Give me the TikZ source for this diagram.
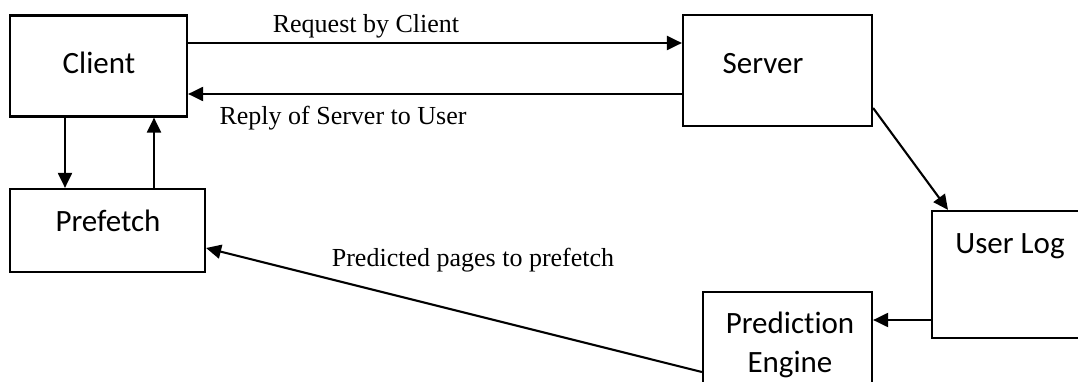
\documentclass[tikz,border=0pt]{standalone}
\usepackage{fontspec}
\setmainfont{Liberation Serif}
\newfontfamily\boxfont[Ligatures={NoCommon,NoRare,NoContextual}]{Carlito}
\usetikzlibrary{arrows.meta,calc}

\tikzset{
  box/.style={draw=black, line width=2.2pt, rectangle, inner sep=0pt},
  boxtext/.style={font=\boxfont\fontsize{31}{36}\selectfont, inner sep=0pt, anchor=base},
  edgetext/.style={font=\fontsize{26}{30}\selectfont, inner sep=0pt, anchor=base},
  arr/.style={line width=2.1pt, -{Triangle[length=15pt,width=14pt]}},
}

\begin{document}
\begin{tikzpicture}[x=1pt, y=-1pt]
  \useasboundingbox (0,0) rectangle (1078,382);

  % boxes
  \node[box, minimum width=177pt, minimum height=101pt] (client)   at (98.5,66)   {};
  \node[box, minimum width=189pt, minimum height=111pt] (server)   at (777.5,70.5) {};
  \node[box, minimum width=195pt, minimum height=83pt]  (prefetch) at (107.5,230.5) {};
  \node[box, minimum width=168pt, minimum height=127pt] (userlog)  at (1016,274.5) {};
  \node[box, minimum width=169pt, minimum height=108pt] (engine)   at (787.5,346)  {};

  % box captions
  \node[boxtext] (clientT)   at (99,74)    {Client};
  \node[boxtext] (serverT)   at (763,74)   {Server};
  \node[boxtext] (prefetchT) at (108,231)  {Prefetch};
  \node[boxtext] (userlogT)  at (1010,253) {User Log};
  \node[boxtext] (engineT1)  at (790,333)  {Prediction};
  \node[boxtext] (engineT2)  at (790,372)  {Engine};

  % connectors
  \draw[arr] (client.east |- 0,43) -- (server.west |- 0,43);
  \draw[arr] (server.west |- 0,94) -- (client.east |- 0,94);
  \draw[arr] (client.south -| 65,0) -- (prefetch.north -| 65,0);
  \draw[arr] (prefetch.north -| 154,0) -- (client.south -| 154,0);
  \draw[arr] (server.east |- 0,108) -- (userlog.north -| 948,0);
  \draw[arr] (userlog.west |- 0,320) -- (engine.east |- 0,320);
  \draw[arr] (engine.west |- 0,372) -- (prefetch.east |- 0,248);

  % connector labels
  \node[edgetext] (reqT)   at (366,33)  {Request by Client};
  \node[edgetext] (repT)   at (343,125) {Reply of Server to User};
  \node[edgetext] (predT)  at (473,266) {Predicted pages to prefetch};
\end{tikzpicture}
\end{document}
